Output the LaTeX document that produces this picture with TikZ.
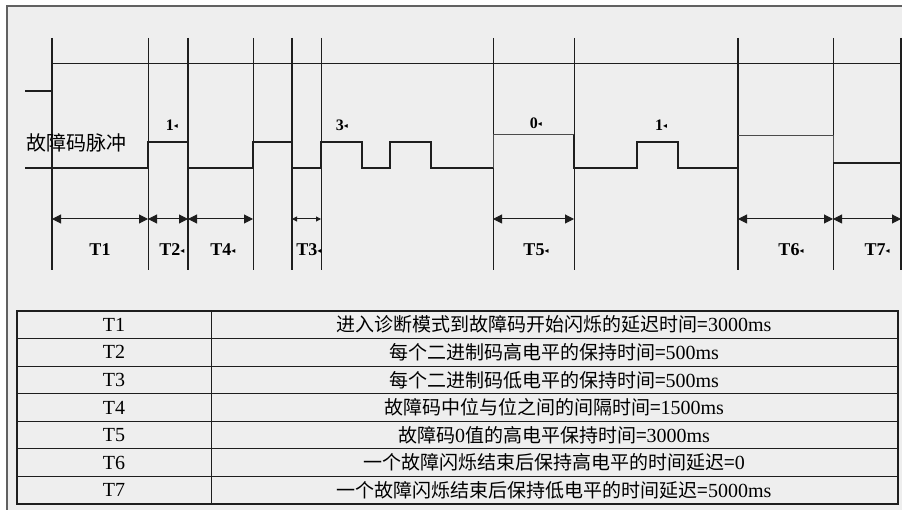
\documentclass[tikz,border=0pt]{standalone}
\usepackage{fontspec}
\setmainfont{Liberation Serif}
\newfontfamily\cjk{Noto Sans CJK SC}
\newfontfamily\symfont{DejaVu Sans}
\usetikzlibrary{arrows.meta}
\definecolor{paper}{HTML}{EEEEEE}
\definecolor{ink}{HTML}{1E1E1E}
\newcommand\retmark{\raisebox{0.3ex}{\symfont\fontsize{8}{8}\selectfont ◂}}
\newcommand\zh[1]{{\cjk\fontsize{19}{19}\selectfont #1}}

\begin{document}
\begin{tikzpicture}[x=1pt, y=-1pt, every node/.style={inner sep=0pt},
  bar/.style={draw=ink},
  wave/.style={draw=ink, line width=2.4pt},
  thinwave/.style={draw=ink!80, line width=1pt},
  dim/.style={draw=ink, line width=1pt, {Triangle[length=9pt,width=9pt]}-{Triangle[length=9pt,width=9pt]}},
  smalldim/.style={draw=ink, line width=1pt, {Triangle[length=5pt,width=5pt]}-{Triangle[length=5pt,width=5pt]}},
  bitlbl/.style={font=\bfseries\fontsize{16}{16}\selectfont},
  tlbl/.style={font=\bfseries\fontsize{18}{18}\selectfont},
  cell/.style={font=\fontsize{20}{20}\selectfont}]

\useasboundingbox (0,0) rectangle (902,510);
\fill[paper] (7,6) rectangle (902,510);
\draw[ink!70, line width=1.2pt] (902,6) -- (7,6) -- (7,510);

% time markers
\foreach \x/\w [count=\i from 0] in {52/2.2,148/1,188/2.2,253/1,292/2.2,321/1,493/1,574/1,738/2.2,833/1,901/2.2}{
  \draw[bar, line width=\w pt] (\x,38) -- (\x,270);
  \coordinate (d\i) at (\x,219);
}
\draw[bar, line width=1pt] (51,64) -- (902,64);

% pulse train
\draw[wave] (25,91) -- (52,91);
\draw[wave] (25,168) -| (148,142) -| (188,168) -| (253,142) -| (292,168) -| (321,142)
  -| (362,168) -| (390,142) -| (431,168) -- (493,168);
\draw[thinwave] (493,168) |- (574,135);
\draw[wave] (574,135) |- (637,168) |- (678,142) |- (738,168) -- (738,136);
\draw[thinwave] (738,136) -| (833,163);
\draw[wave] (833,163) -- (902,163);

\node[font=\cjk\fontsize{20}{20}\selectfont, anchor=west] (sig) at (26,143) {故障码脉冲};
\node[bitlbl] (b1) at (172,125) {1\retmark};
\node[bitlbl] (b2) at (342,125) {3\retmark};
\node[bitlbl] (b3) at (536,123) {0\retmark};
\node[bitlbl] (b4) at (661,125) {1\retmark};

\draw[dim] (d0) -- (d1);
\draw[dim] (d1) -- (d2);
\draw[dim] (d2) -- (d3);
\draw[smalldim] (d4) -- (d5);
\draw[dim] (d6) -- (d7);
\draw[dim] (d8) -- (d9);
\draw[dim] (d9) -- (d10);

\node[tlbl] (t1) at (100,250) {T1};
\node[tlbl] (t2) at (172,250) {T2\retmark};
\node[tlbl] (t4) at (223,250) {T4\retmark};
\node[tlbl] (t3) at (309,250) {T3\retmark};
\node[tlbl] (t5) at (536,250) {T5\retmark};
\node[tlbl] (t6) at (791,250) {T6\retmark};
\node[tlbl] (t7) at (877,250) {T7\retmark};

% table
\draw[ink, line width=1.2pt] (17,311) rectangle (898,504);
\draw[ink, line width=1pt] (211,311) -- (211,504);
\foreach \txt [count=\i] in {
  \zh{进入诊断模式到故障码开始闪烁的延迟时间=}3000ms,
  \zh{每个二进制码高电平的保持时间=}500ms,
  \zh{每个二进制码低电平的保持时间=}500ms,
  \zh{故障码中位与位之间的间隔时间=}1500ms,
  \zh{故障码}0\zh{值的高电平保持时间=}3000ms,
  \zh{一个故障闪烁结束后保持高电平的时间延迟=}0,
  \zh{一个故障闪烁结束后保持低电平的时间延迟=}5000ms}{
  \pgfmathsetmacro\yc{311+27.57*(\i-0.5)}
  \pgfmathsetmacro\yb{311+27.57*\i}
  \node[cell] (k\i) at (114,\yc) {T\i};
  \node[cell] (v\i) at (554,\yc) {\txt};
  \ifnum\i<7 \draw[ink, line width=1pt] (17,\yb) -- (898,\yb); \fi
}
\end{tikzpicture}
\end{document}
